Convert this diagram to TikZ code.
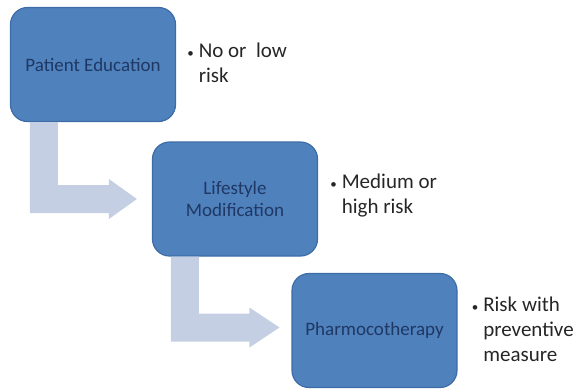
\documentclass[tikz,border=0pt]{standalone}
\usepackage{fontspec}
\setmainfont{Carlito}
\usepackage{tikz}
\usetikzlibrary{calc}
\usetikzlibrary{positioning}

\definecolor{boxblue}{HTML}{4F81BD}
\definecolor{boxedge}{HTML}{3D6CA6}
\definecolor{boxtext}{HTML}{1F3864}
\definecolor{flowgray}{HTML}{C5CFE3}
\definecolor{notetext}{HTML}{262626}

\tikzset{
    stage/.style={draw=boxedge, line width=1.2pt, fill=boxblue, rounded corners=17pt,
        minimum width=165pt, minimum height=114pt, align=center, text=boxtext,
        font=\fontsize{19}{22}\selectfont},
    note/.style={anchor=west, text=notetext, inner sep=0pt, font=\fontsize{21}{25}\selectfont},
    flow/.style={fill=flowgray, draw=none}
}

\newcommand{\bul}{{\fontsize{13}{13}\selectfont\textbullet}}

\begin{document}
\begin{tikzpicture}[x=1pt,y=-1pt]
        \useasboundingbox (0,0) rectangle (578,391);
        \node (edu) at (93,64.5) [stage] {Patient Education};
        \node (life) at (235,199) [stage] {Lifestyle\\Modification};
        \node (pharm) at (374.5,330.5) [stage] {Pharmocotherapy};

        \node (edunote) at ($(edu.east) + (11pt,0)$) [note] {\begin{tabular}{@{}l@{\hspace{5pt}}l@{}}\bul & No or\ \ low\\ & risk\end{tabular}};
        \node (lifenote) at ($(life.east) + (12pt,3pt)$) [note] {\begin{tabular}{@{}l@{\hspace{5pt}}l@{}}\bul & Medium or\\ & high risk\end{tabular}};
        \node (pharmnote) at ($(pharm.east) + (14pt,-1pt)$) [note] {\begin{tabular}{@{}l@{\hspace{5pt}}l@{}}\bul & Risk with\\ & preventive\\ & measure\end{tabular}};

        % bent arrows
        \coordinate (S1) at ($(edu.south west) + (20pt,0)$);
        \coordinate (T1) at ($(life.west) + (-15pt,0)$);
        \coordinate (S2) at ($(life.south west) + (19pt,0)$);
        \coordinate (T2) at ($(pharm.west) + (-12pt,3pt)$);

        \fill[flow] (S1) -- ($(S1 |- T1) + (0,-14pt)$) -- ($(T1) + (-28pt,-14pt)$)
            -- ($(T1) + (-28pt,-20pt)$) -- (T1) -- ($(T1) + (-28pt,20pt)$)
            -- ($(T1) + (-28pt,14pt)$) -- ($(S1 |- T1) + (28pt,14pt)$)
            -- ($(S1) + (28pt,0)$) -- cycle;
        \fill[flow] (S2) -- ($(S2 |- T2) + (0,-14pt)$) -- ($(T2) + (-30pt,-14pt)$)
            -- ($(T2) + (-30pt,-20pt)$) -- (T2) -- ($(T2) + (-30pt,20pt)$)
            -- ($(T2) + (-30pt,14pt)$) -- ($(S2 |- T2) + (28pt,14pt)$)
            -- ($(S2) + (28pt,0)$) -- cycle;
    \end{tikzpicture}
\end{document}
